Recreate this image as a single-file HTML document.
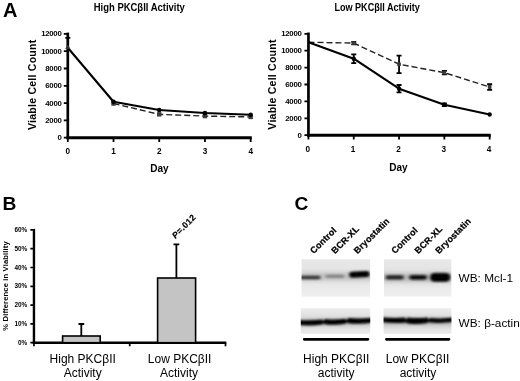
<!DOCTYPE html>
<html lang="en"><head><meta charset="utf-8"><title>Figure</title>
<style>
html,body{margin:0;padding:0;background:#fff;}
body{width:520px;height:381px;overflow:hidden;}
svg{display:block;filter:blur(0.3px);font-family:"Liberation Sans",sans-serif;fill:#000;}
.b{font-weight:bold;}
.m{text-anchor:middle;}
.e{text-anchor:end;}
</style></head><body>
<svg width="520" height="381" viewBox="0 0 520 381">
<defs>
<filter id="bl1" x="-30%" y="-150%" width="160%" height="400%"><feGaussianBlur stdDeviation="1.7 1.15"/></filter>
<filter id="bl2" x="-30%" y="-150%" width="160%" height="400%"><feGaussianBlur stdDeviation="1.3 0.9"/></filter>
<filter id="bl3" x="-30%" y="-150%" width="160%" height="400%"><feGaussianBlur stdDeviation="3 2.6"/></filter>
<filter id="soft" x="-5%" y="-10%" width="110%" height="120%"><feGaussianBlur stdDeviation="0.45"/></filter>
<linearGradient id="gbg" x1="0" y1="0" x2="0" y2="1"><stop offset="0" stop-color="#e9e9e9"/><stop offset="0.45" stop-color="#e2e2e2"/><stop offset="1" stop-color="#f1f1f1"/></linearGradient>
<linearGradient id="gbg2" x1="0" y1="0" x2="0" y2="1"><stop offset="0" stop-color="#eeeeee"/><stop offset="0.4" stop-color="#dedede"/><stop offset="1" stop-color="#ebebeb"/></linearGradient>
<clipPath id="c1"><rect x="301.6" y="259.2" width="68.5" height="37.5"/></clipPath>
<clipPath id="c2"><rect x="384" y="259.2" width="67.3" height="37.4"/></clipPath>
<clipPath id="c3"><rect x="300.8" y="308.2" width="69.4" height="25.5"/></clipPath>
<clipPath id="c4"><rect x="383.6" y="308.2" width="67.8" height="25.6"/></clipPath>
</defs>
<rect width="520" height="381" fill="#fff"/>

<g stroke="#000" fill="none">
<path d="M67.8 32.59999999999998V139.1" stroke-width="2.7"/>
<path d="M66.5 137.7H251.78" stroke-width="3"/>
<path d="M63.8 137.70H67.8M63.8 120.40H67.8M63.8 103.10H67.8M63.8 85.80H67.8M63.8 68.50H67.8M63.8 51.20H67.8M63.8 33.90H67.8M67.80 137.7V142.0M113.52 137.7V142.0M159.24 137.7V142.0M204.96 137.7V142.0M250.68 137.7V142.0" stroke-width="1.8"/>
<polyline points="113.52,103.53 159.24,114.34 204.96,116.07 250.68,116.94" stroke="#222" stroke-width="1.4" stroke-dasharray="6 3"/>
<polyline points="67.80,47.74 113.52,101.80 159.24,110.02 204.96,113.05 250.68,114.78" stroke-width="2.1" stroke-linejoin="round"/>
<path d="M67.80 37.79V55.96M65.30 37.79H70.30" stroke-width="1.8"/>
</g>
<rect x="111.32" y="101.33" width="4.4" height="4.4" fill="#3a3a3a"/>
<rect x="157.04" y="112.14" width="4.4" height="4.4" fill="#3a3a3a"/>
<rect x="202.76" y="113.87" width="4.4" height="4.4" fill="#3a3a3a"/>
<rect x="248.48" y="114.74" width="4.4" height="4.4" fill="#3a3a3a"/>
<circle cx="113.52" cy="101.80" r="2.3"/>
<circle cx="159.24" cy="110.02" r="2.3"/>
<circle cx="204.96" cy="113.05" r="2.3"/>
<circle cx="250.68" cy="114.78" r="2.3"/>
<path d="M67.8 44.6l2.6 4.4h-5.2z" fill="#333"/>
<g class="b e" font-size="7.8" letter-spacing="-0.28">
<text x="61.5" y="140.25">0</text>
<text x="61.5" y="122.95">2000</text>
<text x="61.5" y="105.65">4000</text>
<text x="61.5" y="88.35">6000</text>
<text x="61.5" y="71.05">8000</text>
<text x="61.5" y="53.75">10000</text>
<text x="61.5" y="36.45">12000</text>
</g>
<g class="b m" font-size="8.2">
<text x="67.80" y="154">0</text>
<text x="113.52" y="154">1</text>
<text x="159.24" y="154">2</text>
<text x="204.96" y="154">3</text>
<text x="250.68" y="154">4</text>
</g>
<text class="b m" font-size="10" x="159.4" y="172.4">Day</text>
<text class="b m" font-size="10.6" transform="translate(36.1 84.8) rotate(-90)" letter-spacing="0.2">Viable Cell Count</text>
<text class="b m" font-size="11.2" transform="translate(139.3 10.6) scale(0.845 1)">High PKCβII Activity</text>
<g stroke="#000" fill="none">
<path d="M308.45 32.5V136.6" stroke-width="2.7"/>
<path d="M307.15 135.2H490.75" stroke-width="3"/>
<path d="M304.45 135.20H308.45M304.45 118.30H308.45M304.45 101.40H308.45M304.45 84.50H308.45M304.45 67.60H308.45M304.45 50.70H308.45M304.45 33.80H308.45M308.45 135.2V139.5M353.75 135.2V139.5M399.05 135.2V139.5M444.35 135.2V139.5M489.65 135.2V139.5" stroke-width="1.8"/>
<polyline points="308.45,42.25 353.75,43.09 399.05,64.22 444.35,72.67 489.65,87.03" stroke="#222" stroke-width="1.4" stroke-dasharray="6 3"/>
<polyline points="308.45,42.25 353.75,58.73 399.05,88.72 444.35,104.78 489.65,114.50" stroke-width="2.1" stroke-linejoin="round"/>
<path d="M353.75 54.33V63.12M351.25 54.33H356.25M351.25 63.12H356.25M399.05 55.60V73.18M396.55 55.60H401.55M396.55 73.18H401.55M399.05 85.01V92.44M396.55 85.01H401.55M396.55 92.44H401.55M444.35 70.90V74.44M441.85 70.90H446.85M441.85 74.44H446.85M489.65 84.25V89.82M487.15 84.25H492.15M487.15 89.82H492.15M444.35 103.51V106.05M441.85 103.51H446.85M441.85 106.05H446.85M353.75 41.83V44.36M351.25 41.83H356.25M351.25 44.36H356.25" stroke-width="1.8"/>
</g>
<rect x="351.95" y="41.30" width="3.6" height="3.6" fill="#3a3a3a"/>
<rect x="397.25" y="62.42" width="3.6" height="3.6" fill="#3a3a3a"/>
<rect x="442.55" y="70.87" width="3.6" height="3.6" fill="#3a3a3a"/>
<rect x="487.85" y="85.23" width="3.6" height="3.6" fill="#3a3a3a"/>
<circle cx="353.75" cy="58.73" r="2.2"/>
<circle cx="399.05" cy="88.72" r="2.2"/>
<circle cx="444.35" cy="104.78" r="2.2"/>
<circle cx="489.65" cy="114.50" r="2.2"/>
<g class="b e" font-size="7.8" letter-spacing="-0.28">
<text x="301.55" y="137.75">0</text>
<text x="301.55" y="120.85">2000</text>
<text x="301.55" y="103.95">4000</text>
<text x="301.55" y="87.05">6000</text>
<text x="301.55" y="70.15">8000</text>
<text x="301.55" y="53.25">10000</text>
<text x="301.55" y="36.35">12000</text>
</g>
<g class="b m" font-size="8.2">
<text x="307.85" y="152.2">0</text>
<text x="353.15" y="152.2">1</text>
<text x="398.45" y="152.2">2</text>
<text x="443.75" y="152.2">3</text>
<text x="489.05" y="152.2">4</text>
</g>
<text class="b m" font-size="10" x="398.4" y="170.5">Day</text>
<text class="b m" font-size="10.6" transform="translate(275.8 84.5) rotate(-90)" letter-spacing="0.2">Viable Cell Count</text>
<text class="b m" font-size="11.2" transform="translate(377.1 10.6) scale(0.812 1)">Low PKCβII Activity</text>
<g class="b" font-size="20">
<text x="2.9" y="16.8">A</text>
<text x="2.6" y="209.8" font-size="19.2">B</text>
<text x="294.5" y="209.9" font-size="19.2">C</text>
</g>
<g stroke="#000" fill="none">
<path d="M33.95 228.89999999999998V343.9" stroke-width="2.4"/>
<path d="M32.75 342.7H226.3" stroke-width="2.6"/>
<path d="M30.35 342.70H33.95M30.35 323.90H33.95M30.35 305.10H33.95M30.35 286.30H33.95M30.35 267.50H33.95M30.35 248.70H33.95M30.35 229.90H33.95M33.95 342.7V346.3M129.7 342.7V346.3M225.5 342.7V346.3" stroke-width="1.7"/>
<rect x="62.6" y="336" width="37.6" height="6.7" fill="#c4c4c4" stroke-width="1.6"/>
<rect x="157.6" y="278" width="38" height="64.7" fill="#c4c4c4" stroke-width="1.6"/>
<path d="M81.3 336V324M78.5 324H84.2M176.4 278V244.4M173.5 244.4H179.3" stroke-width="1.8"/>
</g>
<g class="b e" font-size="6.4">
<text x="27.250000000000004" y="344.70">0%</text>
<text x="27.250000000000004" y="325.90">10%</text>
<text x="27.250000000000004" y="307.10">20%</text>
<text x="27.250000000000004" y="288.30">30%</text>
<text x="27.250000000000004" y="269.50">40%</text>
<text x="27.250000000000004" y="250.70">50%</text>
<text x="27.250000000000004" y="231.90">60%</text>
</g>
<text class="b m" font-size="7.7" transform="translate(8 285.9) rotate(-90)" letter-spacing="0.1">% Difference in Viability</text>
<text class="b" font-size="8.6" stroke="#000" stroke-width="0.2" transform="translate(175.5 238.9) rotate(-45)" letter-spacing="0.35"><tspan font-style="italic">P</tspan>=.012</text>
<g class="m" font-size="12">
<text x="82.7" y="363">High PKCβII</text><text x="82.7" y="377">Activity</text>
<text x="179.6" y="363">Low PKCβII</text><text x="179" y="377">Activity</text>
</g>
<g filter="url(#soft)">
<g clip-path="url(#c1)"><rect x="300" y="258" width="72" height="40" fill="url(#gbg)"/>
<g filter="url(#bl3)" fill="#bbb"><rect x="300" y="273" width="72" height="7"/></g>
<g filter="url(#bl1)">
<rect x="298" y="275.7" width="22.6" height="3.6" rx="1.8" fill="#303030"/>
<rect x="325.6" y="274.7" width="18.6" height="3" rx="1.5" fill="#808080"/>
<rect x="349.2" y="271.4" width="20.4" height="6" rx="3" fill="#000" transform="rotate(-2.5 359 274.4)"/>
</g></g>
<g clip-path="url(#c2)"><rect x="382" y="258" width="72" height="40" fill="url(#gbg)"/>
<g filter="url(#bl3)" fill="#b4b4b4"><rect x="382" y="273.5" width="72" height="8"/></g>
<g filter="url(#bl1)">
<rect x="385.6" y="275.3" width="18.2" height="4.3" rx="2" fill="#202020"/>
<rect x="409.2" y="274.9" width="17.8" height="4.8" rx="2.4" fill="#0c0c0c"/>
<rect x="430.4" y="273.2" width="19.6" height="8.2" rx="4" fill="#000" stroke="#000" stroke-width="0.6"/>
</g></g>
<g clip-path="url(#c3)"><rect x="299" y="307" width="74" height="28" fill="url(#gbg2)"/>
<g filter="url(#bl3)" fill="#b8b8b8"><rect x="299" y="319.5" width="74" height="6"/></g>
<g filter="url(#bl2)" fill="#050505">
<path d="M296 319.8Q310 321 322 319.6L323.4 321L324.8 318.9Q335 320 345.4 318.7L346.8 320.2L348.2 318Q359 319 373 317.8V322.6Q359 324.6 348.2 323.2L346.8 322.6L345.4 323.8Q335 325.4 324.8 324.2L323.4 323.4L322 324.6Q310 326.2 296 324.8Z"/>
</g></g>
<g clip-path="url(#c4)"><rect x="381" y="307" width="74" height="28" fill="url(#gbg2)"/>
<g filter="url(#bl3)" fill="#b4b4b4"><rect x="381" y="318.5" width="74" height="7"/></g>
<g filter="url(#bl2)" fill="#050505">
<path d="M380 317.2Q394 318.4 404.8 317.6L406.2 319.4L407.6 317.6Q418 318.6 427.4 317.6L428.8 319.6L430.2 318Q441 319 455 317.6V321.8Q441 323.6 430.2 322.6L428.8 322L427.4 323Q418 325 407.6 323.4L406.2 322.4L404.8 322.8Q394 323.6 380 322Z"/>
</g></g>
</g>
<path d="M304.2 339.3H368M386.4 339.3H449" stroke="#000" stroke-width="2.7" stroke-linecap="round"/>
<g class="b" font-size="9" letter-spacing="0.15" stroke="#000" stroke-width="0.25">
<text transform="translate(313.8 254.3) rotate(-45)">Control</text>
<text transform="translate(335 254.3) rotate(-45)">BCR-XL</text>
<text transform="translate(357.5 254.3) rotate(-45)">Bryostatin</text>
<text transform="translate(395 254.3) rotate(-45)">Control</text>
<text transform="translate(418.3 254.3) rotate(-45)">BCR-XL</text>
<text transform="translate(439 254.3) rotate(-45)">Bryostatin</text>
</g>
<g font-size="11.8">
<text x="458.6" y="281.8">WB: Mcl-1</text><text x="458.6" y="326.6">WB: β-actin</text>
</g>
<g class="m" font-size="12">
<text x="336.2" y="363">High PKCβII</text><text x="336.2" y="377.3">activity</text>
<text x="417.5" y="363">Low PKCβII</text><text x="418" y="377.3">activity</text>
</g>
</svg></body></html>
